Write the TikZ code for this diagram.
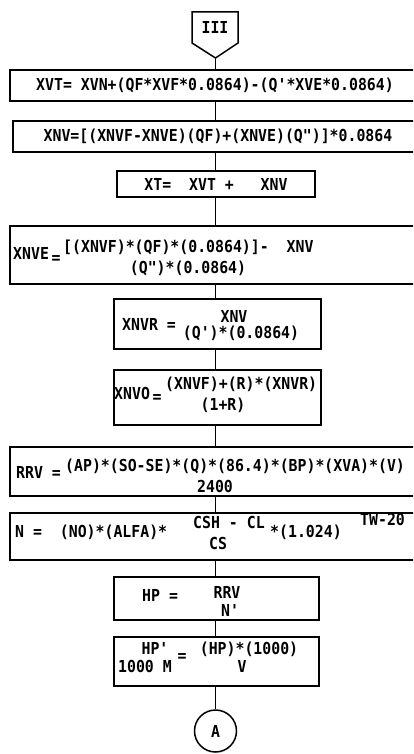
\documentclass[tikz,border=0pt]{standalone}
\usepackage{fontspec}
\setmonofont[FakeStretch=0.9]{DejaVu Sans Mono}
\usetikzlibrary{positioning}

\begin{document}
\begin{tikzpicture}[
    x=1pt, y=-1pt,
    every node/.style={font=\fontsize{16.5}{18}\selectfont\ttfamily\bfseries, inner sep=0pt},
    line/.style={line width=1.5pt},
    wide/.style={draw, line width=1.5pt, minimum width=410pt, minimum height=#1},
    narrow/.style={draw, line width=1.5pt, minimum width=#1, minimum height=26pt},
    term/.style={anchor=mid west},
]
    \useasboundingbox (0,0) rectangle (413,754);
    \clip (0,0) rectangle (413,754);

    % Off-page connector at the top
    \draw[line] (192,12) -- (238,12) -- (238,43) -- (215.5,58) -- (192,43) -- cycle;
    \node (offpage) at (215,27) {III};
    \coordinate (tip) at (215.5,58);

    % Boxes from top to bottom
    \node[wide=31pt] (xvt) at (215,85.5) {XVT= XVN+(QF*XVF*0.0864)-(Q'*XVE*0.0864)};
    \node[wide=31pt] (xnv) at (218,136.5) {XNV=[(XNVF-XNVE)(QF)+(XNVE)(Q")]*0.0864};
    \node[narrow=198pt] (xt) at (216,184) {XT=\ \ XVT +\ \ \ XNV};

    \node[wide=58pt] (xnve) at (215,255) {};
    \node[term] (xnveL) at (13,257) {XNVE};
    \node (xnveE) at (56,260) {=};
    \node[term] (xnveN) at (63,250) {[(XNVF)*(QF)*(0.0864)]-\ \ XNV};
    \node (xnveD) at (188,268) {(Q")*(0.0864)};

    \node[narrow=207pt, minimum height=50pt] (xnvr) at (217.5,324) {};
    \node[term] (xnvrL) at (122,328) {XNVR =};
    \node (xnvrN) at (234,316) {XNV};
    \node (xnvrD) at (241,333) {(Q')*(0.0864)};

    \node[narrow=207pt, minimum height=55pt] (xnvo) at (217.5,397.5) {};
    \node[term] (xnvoL) at (114,397) {XNVO};
    \node (xnvoE) at (157,399) {=};
    \node[term] (xnvoN) at (165,387) {(XNVF)+(R)*(XNVR)};
    \node (xnvoD) at (223,405) {(1+R)};

    \node[wide=49pt] (rrv) at (215,471.5) {};
    \node[term] (rrvL) at (16,476) {RRV =};
    \node[term] (rrvN) at (65,469) {(AP)*(SO-SE)*(Q)*(86.4)*(BP)*(XVA)*(V)};
    \node (rrvD) at (215,486) {2400};

    \node[wide=47pt] (nn) at (215,536.5) {};
    \node[term] (nnL) at (15,535) {N =\ \ (NO)*(ALFA)*};
    \node[term] (nnN) at (193,526) {CSH - CL};
    \node (nnD) at (218,543) {CS};
    \node[term] (nnF) at (270,535) {*(1.024)};
    \node[term] (nnE) at (360,523) {TW-20};

    \node[narrow=205pt, minimum height=43pt] (hp) at (216.5,598.5) {};
    \node[term] (hpL) at (142,599) {HP =};
    \node (hpN) at (227,592) {RRV};
    \node (hpD) at (230,610) {N'};

    \node[narrow=205pt, minimum height=49pt] (hpm) at (216.5,661.5) {};
    \node (hpmA) at (155,648) {HP'};
    \node (hpmB) at (145,666) {1000 M};
    \node (hpmE) at (182,658) {=};
    \node (hpmN) at (249,649) {(HP)*(1000)};
    \node (hpmD) at (242,666) {V};

    \node[draw, circle, line width=1.5pt, minimum size=42pt] (conA) at (215.5,731) {A};

    % Connectors
    \draw[line] (tip) -- (tip |- xvt.north);
    \foreach \a/\b in {xvt/xnv, xnv/xt, xt/xnve, xnve/xnvr, xnvr/xnvo, xnvo/rrv, rrv/nn, nn/hp, hp/hpm, hpm/conA}
        \draw[line] (\a.south -| tip) -- (\b.north -| tip);
\end{tikzpicture}
\end{document}
